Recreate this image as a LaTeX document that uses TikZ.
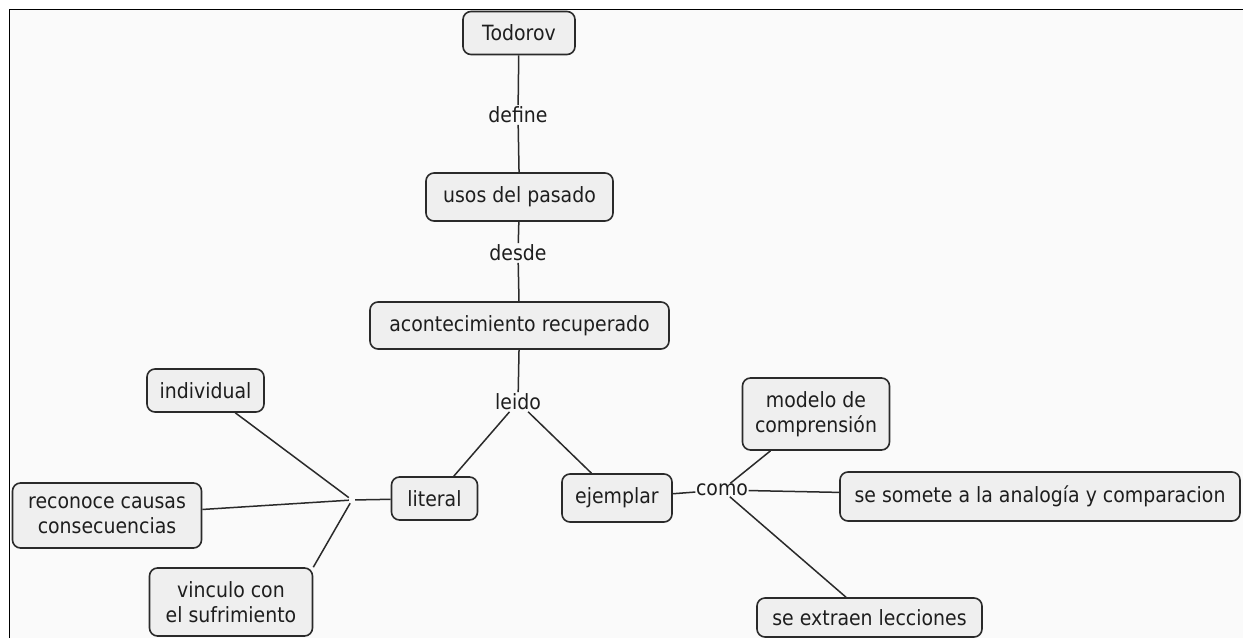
\documentclass[tikz,border=0pt]{standalone}
\usepackage{fontspec}
\setmainfont[FakeStretch=0.9]{DejaVu Sans}
\definecolor{bgc}{HTML}{FAFAFA}
\definecolor{boxc}{HTML}{EFEFEF}
\definecolor{edgec}{HTML}{2A2A2A}
\definecolor{textc}{HTML}{1E1E1E}
\begin{document}
\begin{tikzpicture}[x=1pt,y=-1pt,
  concept/.style={draw=edgec,fill=boxc,line width=1.6pt,rounded corners=8pt,
    align=center,inner sep=0pt,text=textc,font=\fontsize{21}{25}\selectfont},
  linkword/.style={fill=bgc,inner sep=1.5pt,text=textc,font=\fontsize{21}{25}\selectfont},
  conn/.style={draw=edgec,line width=1.5pt}]
\useasboundingbox (0,0) rectangle (1243,638);
\fill[white] (0,0) rectangle (1243,638);
\fill[bgc] (9.5,9.5) rectangle (1243,638);
\draw[black,line width=1.5pt] (9.5,638) -- (9.5,9.5) -- (1243,9.5);
% concepts
\node[concept,minimum width=112pt,minimum height=43pt] (todorov) at (519,33) {Todorov};
\node[concept,minimum width=187pt,minimum height=48pt] (usos) at (519.5,197) {usos del pasado};
\node[concept,minimum width=299pt,minimum height=47pt] (acont) at (519.5,325.5) {acontecimiento recuperado};
\node[concept,minimum width=117pt,minimum height=43pt] (indiv) at (205.5,390.5) {individual};
\node[concept,minimum width=189pt,minimum height=65pt] (recon) at (107,515.5) {reconoce causas\\consecuencias};
\node[concept,minimum width=163pt,minimum height=68pt] (vinc) at (231,602) {vinculo con\\el sufrimiento};
\node[concept,minimum width=86pt,minimum height=43pt] (literal) at (434.5,498.5) {literal};
\node[concept,minimum width=110pt,minimum height=48pt] (ejem) at (617,498) {ejemplar};
\node[concept,minimum width=147pt,minimum height=72pt] (modelo) at (816,414) {modelo de\\comprensión};
\node[concept,minimum width=400pt,minimum height=49pt] (somete) at (1040,496.5) {se somete a la analogía y comparacion};
\node[concept,minimum width=225pt,minimum height=39pt] (extraen) at (869.5,617.5) {se extraen lecciones};
% linking words
\node[linkword] (define) at (518,115) {define};
\node[linkword] (desde) at (518,253) {desde};
\node[linkword] (leido) at (518,402) {leido};
\node[linkword,inner sep=0.5pt] (como) at (722,490) {como};
\node[inner sep=3pt] (hub) at (352,500) {};
% connectors
\draw[conn] (todorov) -- (define);
\draw[conn] (define) -- (usos);
\draw[conn] (usos) -- (desde);
\draw[conn] (desde) -- (acont);
\draw[conn] (acont) -- (leido);
\draw[conn] (leido) -- (literal);
\draw[conn] (leido) -- (ejem);
\draw[conn] (literal) -- (hub);
\draw[conn] (indiv) -- (hub);
\draw[conn] (recon) -- (hub);
\draw[conn] (vinc.north east) -- (hub);
\draw[conn] (ejem) -- (como);
\draw[conn] (como) -- (modelo);
\draw[conn] (como) -- (somete);
\draw[conn] (como) -- (extraen);
\end{tikzpicture}
\end{document}
